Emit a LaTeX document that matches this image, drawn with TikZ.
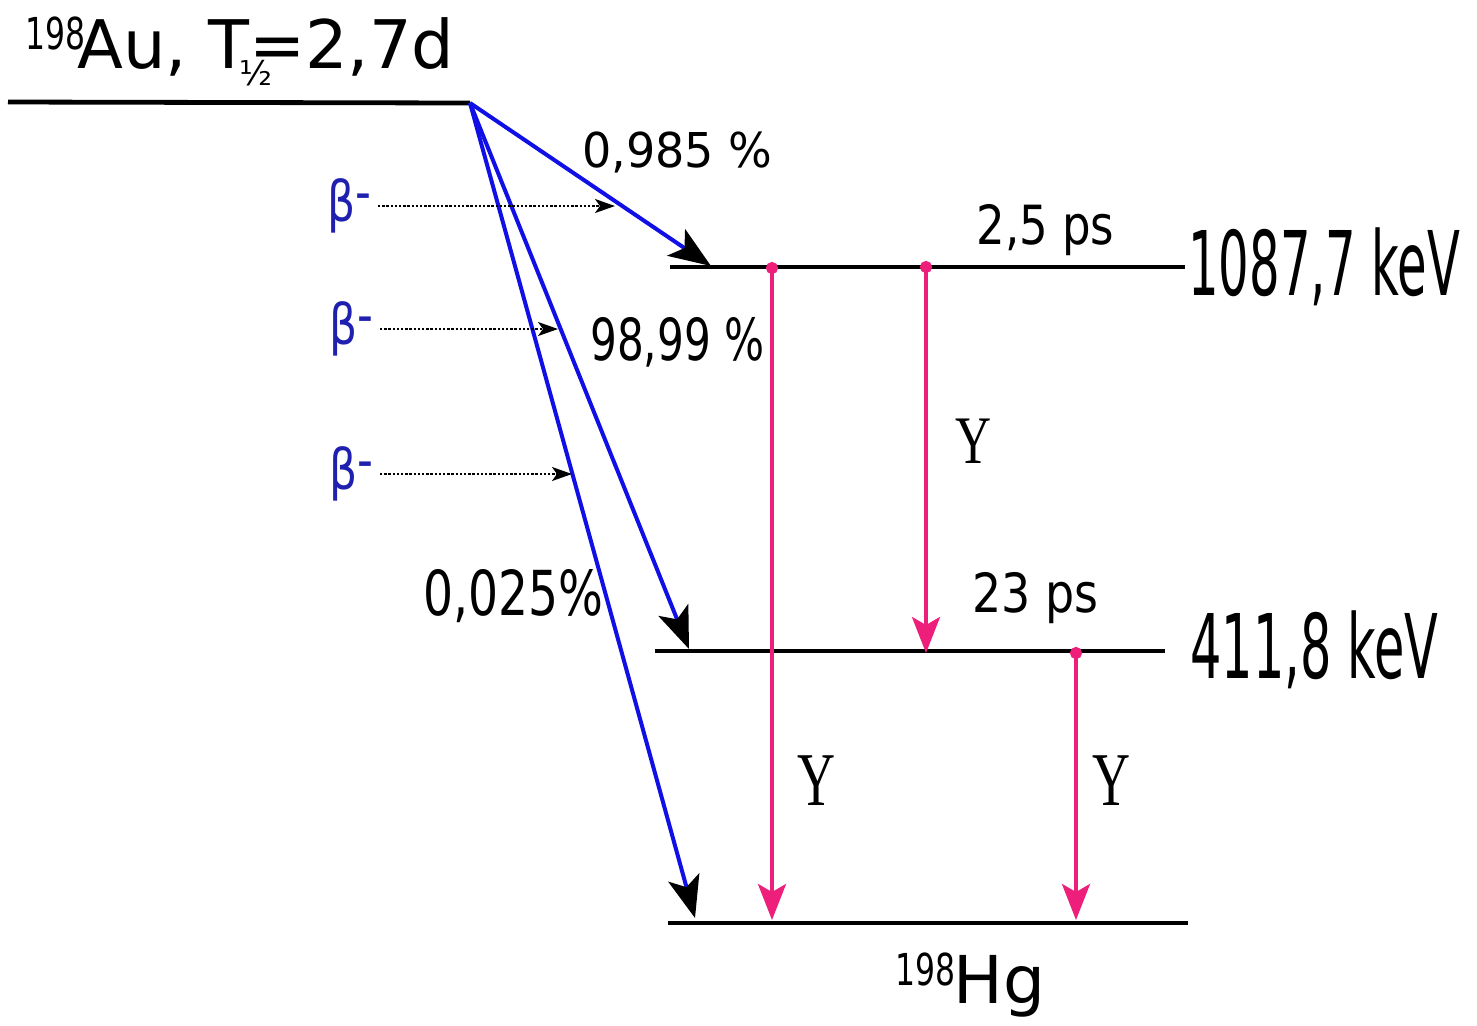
\documentclass[tikz,border=0pt]{standalone}
\usepackage{fontspec}
\setmainfont{DejaVu Sans}
\newfontfamily\gammafont{Liberation Serif}
\usetikzlibrary{arrows.meta,calc}
\definecolor{Ink}{HTML}{000000}
\definecolor{BetaLine}{HTML}{1010E6}
\definecolor{BetaText}{HTML}{2020B0}
\definecolor{GammaLine}{HTML}{EE1F7A}
\newcommand{\squeeze}[2]{\resizebox{#1}{\height}{#2}}
\newcommand{\fs}[1]{\fontsize{#1}{#1}\selectfont}
\tikzset{
  levelline/.style={draw=Ink,line width=2.4pt},
  betaline/.style={draw=BetaLine,line width=2pt,-{Stealth[length=21pt,width=16pt,inset=5pt,color=Ink,fill=Ink]}},
  gammaline/.style={draw=GammaLine,line width=1.8pt,shorten <=-3pt,{Circle[length=6pt]}-{Stealth[length=18pt,width=14pt,inset=4pt]}},
  pointer/.style={draw=Ink,line width=0.9pt,dash pattern=on 1.2pt off 0.9pt,shorten <=3pt,-{Stealth[length=10pt,width=7pt,inset=2.5pt]}},
  txt/.style={inner sep=0pt,anchor=base west,text=Ink},
  betalabel/.style={inner sep=0pt,anchor=east,text=BetaText,font=\fs{28}},
  gammalabel/.style={inner sep=0pt,anchor=base west,text=Ink,font=\gammafont\fs{36}}
}

\begin{document}
\begin{tikzpicture}[x=0.5pt,y=-0.5pt]
  \useasboundingbox[fill=white] (0,0) rectangle (1477,1025);

  % levels
  \coordinate (au-l) at (8,102);
  \coordinate (au-r) at (470,103);
  \coordinate (e1-l) at (670,267);
  \coordinate (e1-r) at (1185,267);
  \coordinate (e2-l) at (655,651);
  \coordinate (e2-r) at (1165,651);
  \coordinate (hg-l) at (668,923);
  \coordinate (hg-r) at (1188,923);
  \draw[levelline] (au-l) -- (au-r);
  \draw[levelline] (e1-l) -- (e1-r);
  \draw[levelline] (e2-l) -- (e2-r);
  \draw[levelline] (hg-l) -- (hg-r);

  \node[txt,font=\fs{33.5}] (au) at (25,68) {\raisebox{9.5pt}{\squeeze{30pt}{\fs{22}198}}\kern-4pt Au, T\rlap{\kern-5pt\raisebox{-8.5pt}{\fs{17}½}}=2,7d};
  \node[txt,font=\fs{33}] (hg) at (895,1003) {\raisebox{9pt}{\squeeze{30pt}{\fs{22}198}}\kern-1pt Hg};
  \node[txt] (e1lab) at (1188,295) {\squeeze{136pt}{\fs{44.6}1087,7 keV}};
  \node[txt] (e2lab) at (1190,678) {\squeeze{124pt}{\fs{44.6}411,8 keV}};
  \node[txt] (e1life) at (976,244) {\squeeze{69pt}{\fs{27}2,5 ps}};
  \node[txt] (e2life) at (972,612) {\squeeze{63pt}{\fs{27}23 ps}};

  % beta branches
  \coordinate (t1) at (711,266);
  \coordinate (t2) at (689,649);
  \coordinate (t3) at (695,918);
  \draw[betaline] (au-r) -- (t1);
  \draw[betaline] (au-r) -- (t2);
  \draw[betaline] (au-r) -- (t3);
  \node[txt] (p1) at (582,167) {\squeeze{95pt}{\fs{24}0,985 \%}};
  \node[txt] (p2) at (590,360) {\squeeze{87pt}{\fs{29}98,99 \%}};
  \node[txt] (p3) at (423,615) {\squeeze{90pt}{\fs{31}0,025\%}};

  % gamma lines
  \coordinate (y1s) at (772,268);
  \coordinate (y1e) at (772,920);
  \coordinate (y2s) at (926,267);
  \coordinate (y2e) at (926,653);
  \coordinate (y3s) at (1076,653);
  \coordinate (y3e) at (1076,920);
  \draw[gammaline] (y1s) -- (y1e);
  \draw[gammaline] (y2s) -- (y2e);
  \draw[gammaline] (y3s) -- (y3e);
  \node[gammalabel] (y1lab) at (797,805) {\squeeze{19pt}{\fs{38}Y}};
  \node[gammalabel] (y2lab) at (955,463) {\squeeze{18pt}{\fs{34}Y}};
  \node[gammalabel] (y3lab) at (1092,805) {\squeeze{19pt}{\fs{38}Y}};

  % beta labels
  \node[betalabel] (b1) at (372,206) {\squeeze{22pt}{β\raisebox{5pt}{-}}};
  \node[betalabel] (b2) at (374,329) {\squeeze{22pt}{β\raisebox{5pt}{-}}};
  \node[betalabel] (b3) at (374,474) {\squeeze{22pt}{β\raisebox{5pt}{-}}};
  \coordinate (d1) at (615,206);
  \coordinate (d2) at (558,329);
  \coordinate (d3) at (572,474);
  \draw[pointer] (b1.east) -- (d1);
  \draw[pointer] (b2.east) -- (d2);
  \draw[pointer] (b3.east) -- (d3);
\end{tikzpicture}
\end{document}
